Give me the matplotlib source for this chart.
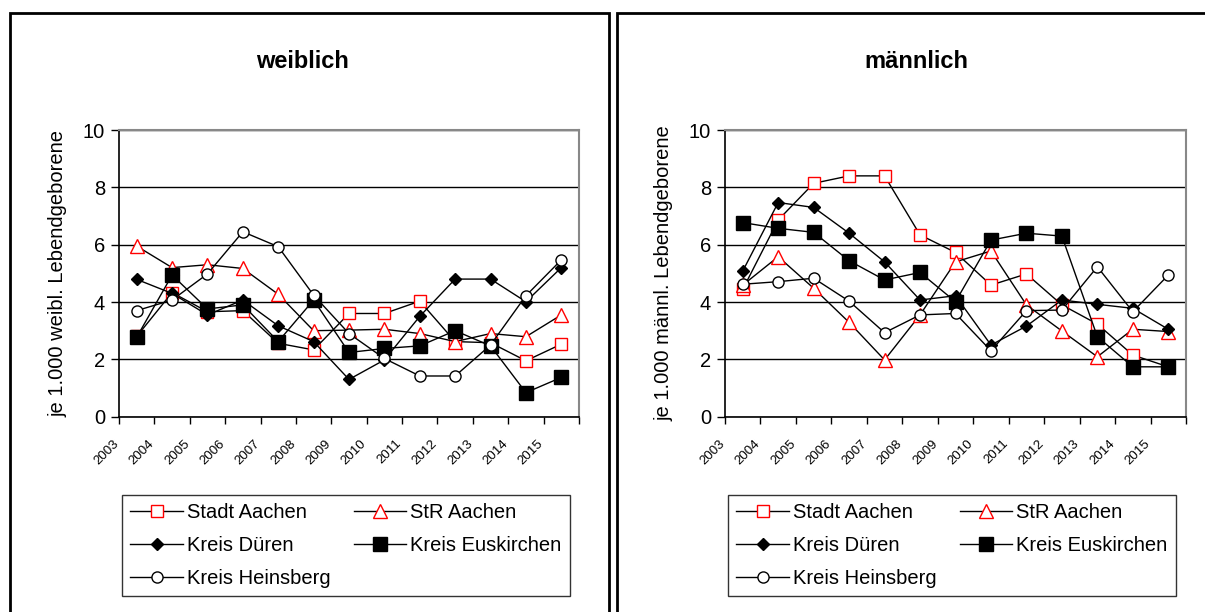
import matplotlib
matplotlib.use('Agg')
import matplotlib.pyplot as plt
from matplotlib.patches import Rectangle
from matplotlib.transforms import ScaledTranslation

plt.rcParams['font.family'] = ['Liberation Sans', 'DejaVu Sans']

# Jahre
years = ['2003', '2004', '2005', '2006', '2007', '2008', '2009',
         '2010', '2011', '2012', '2013', '2014', '2015']

# weiblich
w_stadt_aachen = [2.8, 4.33, 3.66, 3.7, 2.56, 2.33, 3.6, 3.6, 4.03, 2.62, 2.58, 1.95, 2.53]
w_str_aachen = [5.95, 5.2, 5.3, 5.17, 4.27, 3.0, 3.02, 3.05, 2.9, 2.62, 2.9, 2.79, 3.55]
w_dueren = [4.79, 4.3, 3.55, 4.07, 3.17, 2.62, 1.3, 1.98, 3.5, 4.8, 4.8, 4.01, 5.2]
w_euskirchen = [2.77, 4.94, 3.76, 3.9, 2.62, 4.07, 2.24, 2.38, 2.47, 3.0, 2.47, 0.84, 1.37]
w_heinsberg = [3.7, 4.07, 4.98, 6.45, 5.93, 4.24, 2.9, 2.03, 1.42, 1.42, 2.5, 4.22, 5.47]

# männlich
m_stadt_aachen = [4.44, 6.86, 8.14, 8.4, 8.4, 6.34, 5.73, 4.59, 4.98, 3.9, 3.23, 2.15, 1.74]
m_str_aachen = [4.59, 5.58, 4.48, 3.29, 1.98, 3.55, 5.4, 5.78, 3.9, 2.99, 2.09, 3.05, 2.97]
m_dueren = [5.08, 7.47, 7.3, 6.4, 5.4, 4.07, 4.22, 2.5, 3.16, 4.07, 3.92, 3.78, 3.05]
m_euskirchen = [6.77, 6.57, 6.43, 5.44, 4.77, 5.03, 4.01, 6.16, 6.4, 6.3, 2.79, 1.74, 1.74]
m_heinsberg = [4.62, 4.71, 4.83, 4.03, 2.93, 3.55, 3.6, 2.3, 3.7, 3.72, 5.23, 3.66, 4.94]

names = ['Stadt Aachen', 'StR Aachen', 'Kreis Düren', 'Kreis Euskirchen', 'Kreis Heinsberg']

styles = {
    'Stadt Aachen': dict(marker='s', ms=8.5, mfc='white', mec='red'),
    'StR Aachen': dict(marker='^', ms=9.5, mfc='white', mec='red'),
    'Kreis Düren': dict(marker='D', ms=6.5, mfc='black', mec='black'),
    'Kreis Euskirchen': dict(marker='s', ms=10.5, mfc='black', mec='black'),
    'Kreis Heinsberg': dict(marker='o', ms=8, mfc='white', mec='black'),
}

W, H = 1205, 612
fig = plt.figure(figsize=(W / 100, H / 100), dpi=100)


def panel(rect, series, title, title_x, ylabel):
    ax = fig.add_axes(rect)
    x = list(range(len(years)))
    lines = []
    for name, vals in zip(names, series):
        ln, = ax.plot(x, vals, color='black', lw=1, mew=1, label=name,
                      zorder=3, **styles[name])
        lines.append(ln)
    ax.set_xlim(-0.5, len(years) - 0.5)
    ax.set_ylim(0, 10)
    ax.set_yticks(range(0, 11, 2))
    ax.tick_params(axis='y', labelsize=14.5, length=6, width=1, pad=4)
    ax.set_xticks([i - 0.5 for i in range(len(years) + 1)])
    ax.set_xticklabels([])
    ax.set_xticks(x, minor=True)
    ax.set_xticklabels(years, minor=True, rotation=45, ha='right',
                       rotation_mode='anchor', fontsize=9.5)
    ax.tick_params(axis='x', which='major', length=5, width=1)
    ax.tick_params(axis='x', which='minor', length=0, pad=15)
    off = ScaledTranslation(-24 / 100, 0, fig.dpi_scale_trans)
    for lab in ax.get_xticklabels(minor=True):
        lab.set_transform(lab.get_transform() + off)
    ax.grid(axis='y', color='black', lw=1)
    ax.set_axisbelow(True)
    for s in ['top', 'right']:
        ax.spines[s].set_color('#888888')
        ax.spines[s].set_linewidth(1.5)
    for s in ['left', 'bottom']:
        ax.spines[s].set_linewidth(1.2)
    ax.set_ylabel(ylabel, fontsize=14.5)
    ax.yaxis.set_label_coords(-0.112, 0.5)
    fig.text(title_x / W, 1 - 61 / H, title, fontsize=17, fontweight='bold',
             ha='center', va='center')
    return ax, lines


ax1, lines = panel([119 / W, 1 - 416.7 / H, 460 / W, 286.7 / H],
                   [w_stadt_aachen, w_str_aachen, w_dueren, w_euskirchen, w_heinsberg],
                   'weiblich', 302, 'je 1.000 weibl. Lebendgeborene')
ax2, _ = panel([725 / W, 1 - 416.7 / H, 461 / W, 286.7 / H],
               [m_stadt_aachen, m_str_aachen, m_dueren, m_euskirchen, m_heinsberg],
               'männlich', 916, 'je 1.000 männl. Lebendgeborene')

# Legenden (zeilenweise Anordnung wie im Original)
order = [0, 2, 4, 1, 3]
for lx in (122, 728):
    leg = fig.legend([lines[i] for i in order], [names[i] for i in order],
                     ncol=2, loc='upper left', bbox_to_anchor=(lx / W, 1 - 495 / H),
                     fontsize=14.5, frameon=True, fancybox=False, borderaxespad=0,
                     handlelength=2.6, handletextpad=0.2, columnspacing=1.15,
                     labelspacing=0.68, borderpad=0.42)
    leg.get_frame().set_edgecolor('black')
    leg.get_frame().set_linewidth(1)

# Rahmen der beiden Diagrammbereiche
fig.patches.append(Rectangle((10 / W, -0.2), 599 / W, 1.2 - 12.5 / H,
                             transform=fig.transFigure, fill=False,
                             edgecolor='black', lw=2))
fig.patches.append(Rectangle((617 / W, -0.2), 700 / W, 1.2 - 12.5 / H,
                             transform=fig.transFigure, fill=False,
                             edgecolor='black', lw=2))

fig.savefig('out.png', dpi=100)
